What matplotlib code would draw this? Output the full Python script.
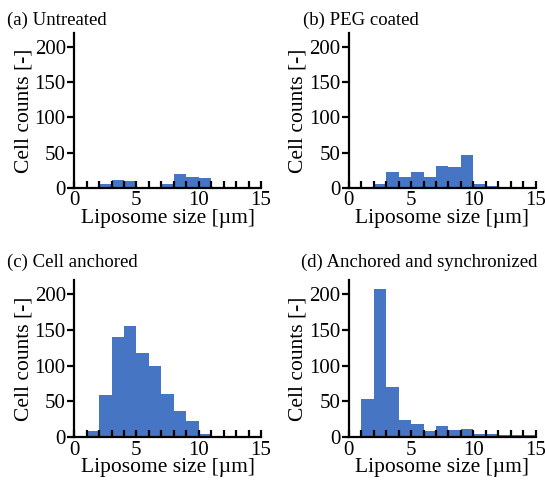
import numpy as np
import matplotlib
matplotlib.use("Agg")
import matplotlib.pyplot as plt
from matplotlib.ticker import MultipleLocator

# ---------------------------------------------
# Histogram data (1 um bins, 0-15 um)
# ---------------------------------------------
bin_edges = list(range(0, 16))
counts_untreated = [0, 0, 5, 11, 10, 0, 0, 5, 19, 16, 14, 0, 0, 0, 0]
counts_peg = [0, 0, 5, 23, 15, 23, 15, 31, 30, 46, 6, 3, 0, 0, 0]
counts_anchored = [0, 8, 59, 141, 156, 118, 100, 61, 36, 23, 4, 1, 0, 0, 0]
counts_sync = [0, 54, 208, 70, 24, 19, 8, 16, 10, 11, 5, 5, 3, 3, 3]

titles = ["(a) Untreated", "(b) PEG coated", "(c) Cell anchored",
          "(d) Anchored and synchronized"]
all_counts = [counts_untreated, counts_peg, counts_anchored, counts_sync]

plt.rcParams["font.family"] = ["Liberation Serif", "DejaVu Serif"]
plt.rcParams["font.size"] = 15

fig = plt.figure(figsize=(5.45, 4.83), dpi=100)

# axes rectangles [left, bottom, width, height]
rects = [
    [0.136, 0.611, 0.343, 0.321],
    [0.640, 0.611, 0.343, 0.321],
    [0.136, 0.095, 0.343, 0.325],
    [0.640, 0.095, 0.343, 0.325],
]
title_pos = [(0.013, 0.958), (0.556, 0.958), (0.013, 0.457), (0.553, 0.457)]

edges = np.array(bin_edges)
for rect, counts, title, tp in zip(rects, all_counts, titles, title_pos):
    ax = fig.add_axes(rect)
    ax.bar(edges[:-1], counts, width=1.0, align="edge",
           color="#4675c3", edgecolor="none")
    ax.set_xlim(0, 15)
    ax.set_ylim(0, 220)
    ax.spines["top"].set_visible(False)
    ax.spines["right"].set_visible(False)
    ax.spines["left"].set_linewidth(1.6)
    ax.spines["bottom"].set_linewidth(1.6)
    ax.xaxis.set_major_locator(MultipleLocator(5))
    ax.xaxis.set_minor_locator(MultipleLocator(1))
    ax.yaxis.set_major_locator(MultipleLocator(50))
    ax.tick_params(axis="x", which="both", direction="in", length=5,
                   width=1.6, pad=2.5, labelsize=15)
    ax.tick_params(axis="y", direction="out", length=5, width=1.6, pad=1,
                   labelsize=15)
    ax.set_xlabel("Liposome size [µm]", fontsize=15.5, labelpad=-1)
    ax.set_ylabel("Cell counts [-]", fontsize=15.5, labelpad=1)
    fig.text(tp[0], tp[1], title, ha="left", va="center", fontsize=13.5)

plt.savefig("out.png", dpi=100)
plt.close()
